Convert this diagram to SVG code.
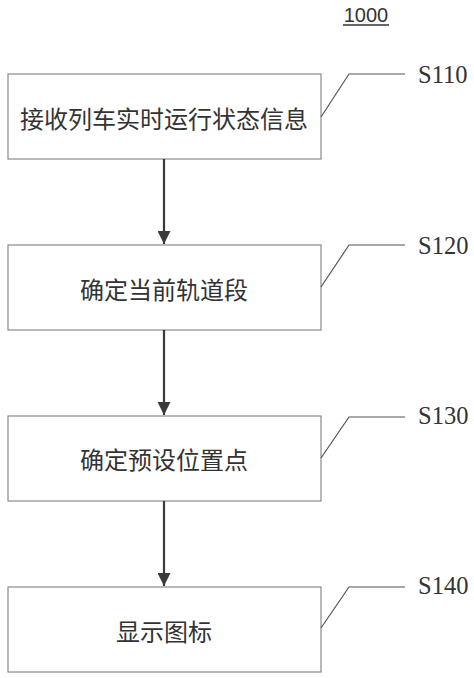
<svg xmlns="http://www.w3.org/2000/svg" width="474" height="678" viewBox="0 0 474 678">
<style>
.box{fill:#fff;stroke:#8a8a8a;stroke-width:1.2}
.t{font-family:"Noto Sans CJK SC","Noto Sans",sans-serif;font-size:24px;fill:#333;text-anchor:middle;dominant-baseline:central}
.lead{fill:none;stroke:#555;stroke-width:1.2}
.lbl{font-family:"Liberation Serif",serif;font-size:24.5px;fill:#333}
.arr{stroke:#3a3a3a;stroke-width:2.2}
</style>
<defs>
<marker id="ah" markerWidth="13" markerHeight="13" refX="13" refY="6.5" orient="auto" markerUnits="userSpaceOnUse">
<path d="M0,0 L13,6.5 L0,13 z" fill="#3a3a3a"/>
</marker>
</defs>
<rect width="474" height="678" fill="#fff"/>
<g id="title">
<text x="366" y="22" font-family="Liberation Sans,sans-serif" font-size="20" fill="#333" text-anchor="middle">1000</text>
<line x1="343" y1="25" x2="389" y2="25" stroke="#333" stroke-width="1.5"/>
</g>
<g id="s110">
<rect class="box" x="8" y="74" width="313" height="85"/>
<text class="t" x="164" y="117">接收列车实时运行状态信息</text>
<polyline class="lead" points="321,117 349,74 405,74"/>
<text class="lbl" x="418" y="83">S110</text>
</g>
<g id="s120">
<rect class="box" x="8" y="245" width="313" height="85"/>
<text class="t" x="164" y="288">确定当前轨道段</text>
<polyline class="lead" points="321,287 349,245 405,245"/>
<text class="lbl" x="418" y="254">S120</text>
</g>
<g id="s130">
<rect class="box" x="8" y="416" width="313" height="85"/>
<text class="t" x="164" y="458">确定预设位置点</text>
<polyline class="lead" points="321,458 349,417 405,417"/>
<text class="lbl" x="418" y="424">S130</text>
</g>
<g id="s140">
<rect class="box" x="8" y="587" width="313" height="85"/>
<text class="t" x="164" y="630">显示图标</text>
<polyline class="lead" points="321,628 349,587 405,587"/>
<text class="lbl" x="418" y="594">S140</text>
</g>
<g id="connectors">
<line class="arr" x1="164" y1="159" x2="164" y2="244" marker-end="url(#ah)"/>
<line class="arr" x1="164" y1="330" x2="164" y2="415" marker-end="url(#ah)"/>
<line class="arr" x1="164" y1="501" x2="164" y2="586" marker-end="url(#ah)"/>
</g>
</svg>
